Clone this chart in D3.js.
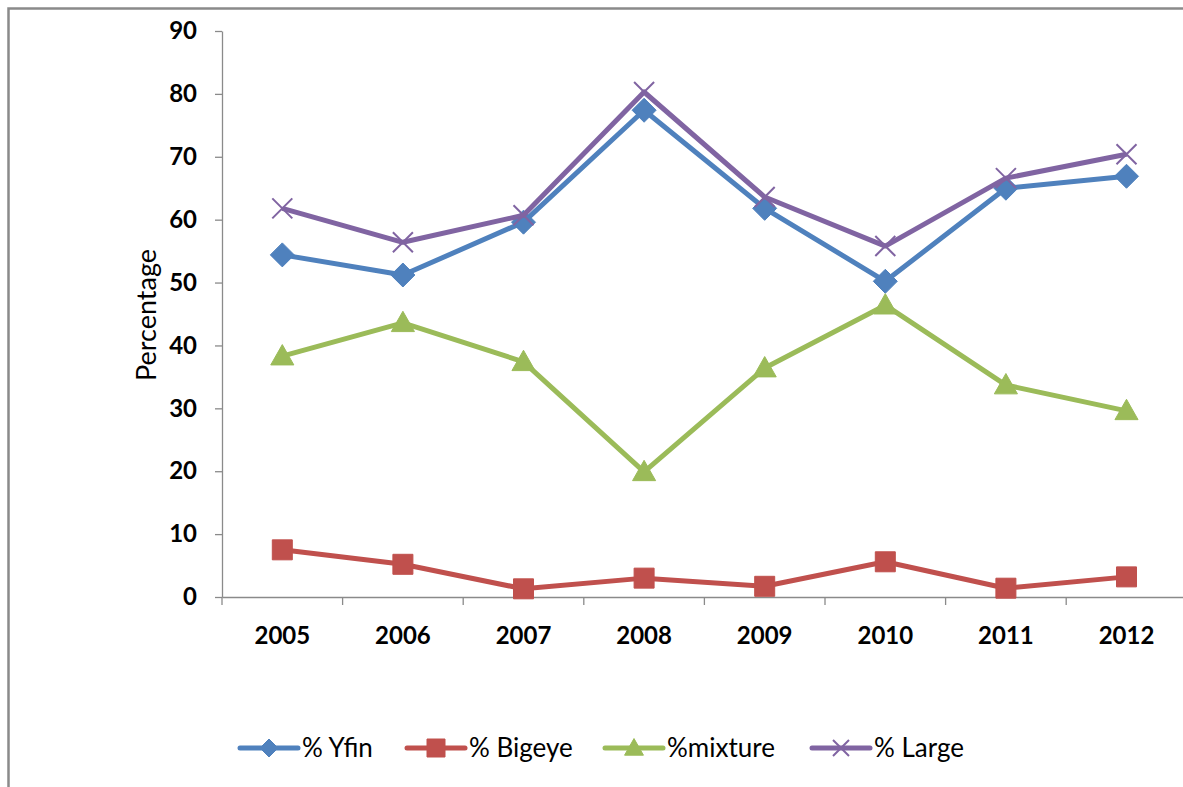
<!DOCTYPE html>
<html>
<head>
<meta charset="utf-8">
<script src="https://cdn.jsdelivr.net/npm/d3@7"></script>
<style>
  html, body { margin: 0; padding: 0; background: #fff; overflow: hidden; }
  svg { display: block; }
</style>
</head>
<body>
<svg id="chart" width="1183" height="787"></svg>
<script>
// Catch composition by year (percent)
const years = ["2005", "2006", "2007", "2008", "2009", "2010", "2011", "2012"];
const yfin    = [54.4, 51.2, 59.6, 77.4, 61.8, 50.2, 65.0, 66.9];
const bigeye  = [7.5, 5.2, 1.3, 3.0, 1.7, 5.6, 1.4, 3.2];
const mixture = [38.3, 43.6, 37.4, 19.9, 36.4, 46.4, 33.7, 29.6];
const large   = [61.8, 56.4, 60.7, 80.3, 63.6, 55.8, 66.6, 70.4];
const yTicks  = [0, 10, 20, 30, 40, 50, 60, 70, 80, 90];

const series = [
  { name: "% Yfin",   values: yfin,    color: "#4F81BD", symbol: "diamond" },
  { name: "% Bigeye", values: bigeye,  color: "#C0504D", symbol: "square" },
  { name: "%mixture", values: mixture, color: "#9BBB59", symbol: "triangle" },
  { name: "% Large",  values: large,   color: "#8064A2", symbol: "cross" }
];

const svg = d3.select("#chart");
const W = 1183, H = 787;
const plotLeft = 222, plotTop = 31, plotBottom = 597;
const bandW = 120.6;
const plotRight = plotLeft + bandW * years.length;

const font = "Lato, 'Open Sans', sans-serif";

// outer frame (right and bottom edges fall outside the view)
svg.append("rect")
  .attr("x", 8.5).attr("y", 8.5)
  .attr("width", W + 20).attr("height", H + 20)
  .attr("fill", "none").attr("stroke", "#8a8a8a").attr("stroke-width", 2.5);

const x = d3.scaleBand().domain(years).range([plotLeft, plotRight]);
const y = d3.scaleLinear().domain([0, 90]).range([plotBottom, plotTop]);

// y axis
const yAxis = svg.append("g")
  .attr("transform", `translate(${plotLeft},0)`)
  .call(d3.axisLeft(y).tickValues(yTicks).tickSize(7).tickPadding(18).tickSizeOuter(0));
yAxis.select(".domain").attr("stroke", "#8a8a8a").attr("stroke-width", 1.3);
yAxis.selectAll(".tick line").attr("stroke", "#8a8a8a").attr("stroke-width", 1.3);
yAxis.selectAll(".tick text")
  .attr("fill", "#000").style("font-family", font).style("font-weight", "700").style("font-size", "24px");

// x axis
const xAxis = svg.append("g")
  .attr("transform", `translate(0,${plotBottom})`)
  .call(d3.axisBottom(x).tickSize(0).tickPadding(30).tickSizeOuter(0));
xAxis.select(".domain").attr("stroke", "#8a8a8a").attr("stroke-width", 1.3);
xAxis.selectAll(".tick text")
  .attr("fill", "#000").style("font-family", font).style("font-weight", "700").style("font-size", "24px");
// category boundary tick marks
svg.append("g").selectAll("line")
  .data(d3.range(years.length + 1))
  .join("line")
  .attr("x1", i => plotLeft + i * bandW).attr("x2", i => plotLeft + i * bandW)
  .attr("y1", plotBottom).attr("y2", plotBottom + 8)
  .attr("stroke", "#8a8a8a").attr("stroke-width", 1.3);

// y axis title
svg.append("text")
  .attr("transform", `translate(156,${(plotTop + plotBottom) / 2 + 1}) rotate(-90)`)
  .attr("text-anchor", "middle")
  .style("font-family", font).style("font-size", "27px").attr("fill", "#000")
  .text("Percentage");

const cx = d => x(d) + x.bandwidth() / 2;

function symbolPath(sym, size) {
  const s = size / 2;
  if (sym === "diamond") return `M0,${-s}L${s},0L0,${s}L${-s},0Z`;
  if (sym === "square") return `M${-s},${-s}H${s}V${s}H${-s}Z`;
  if (sym === "triangle") return `M0,${-s * 1.05}L${s * 1.05},${s * 0.8}L${-s * 1.05},${s * 0.8}Z`;
  return `M${-s},${-s}L${s},${s}M${s},${-s}L${-s},${s}`;
}

function drawMarker(g, sym, color, size) {
  const p = g.append("path").attr("d", symbolPath(sym, size));
  if (sym === "cross") {
    p.attr("fill", "none").attr("stroke", color).attr("stroke-width", 2);
  } else {
    p.attr("fill", color).attr("stroke", color).attr("stroke-width", 1);
  }
}

const line = d3.line().x(d => cx(d.year)).y(d => y(d.value));
const markerSize = { diamond: 24, square: 20, triangle: 22, cross: 20 };

series.forEach(s => {
  const pts = years.map((yr, i) => ({ year: yr, value: s.values[i] }));
  svg.append("path")
    .datum(pts)
    .attr("d", line)
    .attr("fill", "none")
    .attr("stroke", s.color)
    .attr("stroke-width", 5)
    .attr("stroke-linejoin", "round");
  pts.forEach(p => {
    const g = svg.append("g").attr("transform", `translate(${cx(p.year)},${y(p.value)})`);
    drawMarker(g, s.symbol, s.color, markerSize[s.symbol]);
  });
});

// legend
const legendY = 748;
const legendX = [240, 407, 605, 812];
series.forEach((s, i) => {
  const g = svg.append("g").attr("transform", `translate(${legendX[i]},${legendY})`);
  g.append("line").attr("x1", 0).attr("x2", 58).attr("y1", 0).attr("y2", 0)
    .attr("stroke", s.color).attr("stroke-width", 5).attr("stroke-linecap", "round");
  const m = g.append("g").attr("transform", "translate(29,0)");
  drawMarker(m, s.symbol, s.color, s.symbol === "cross" ? 16 : 18);
  g.append("text")
    .attr("x", 62).attr("y", 0).attr("dy", "0.35em")
    .style("font-family", font).style("font-size", "26px").attr("fill", "#000")
    .text(s.name);
});
</script>
</body>
</html>
